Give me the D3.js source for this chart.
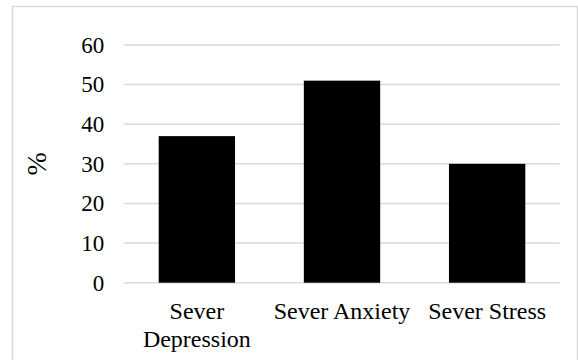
<!DOCTYPE html>
<html>
<head>
<meta charset="utf-8">
<script src="https://cdn.jsdelivr.net/npm/d3@7"></script>
<style>
  html, body { margin: 0; padding: 0; background: #fff; }
  svg { display: block; }
  svg text { font-family: "Liberation Serif", "Times New Roman", serif !important; fill: #000; }
</style>
</head>
<body>
<div id="chart"></div>
<script>
// Share of respondents with severe symptoms (%)
const categories = [["Sever", "Depression"], ["Sever Anxiety"], ["Sever Stress"]];
const categoryKeys = ["Sever Depression", "Sever Anxiety", "Sever Stress"];
const values = [37, 51, 30];
const yTicks = [0, 10, 20, 30, 40, 50, 60];
const yLabel = "%";

const width = 578, height = 360;
const margin = { top: 45, right: 18.3, bottom: 77.3, left: 124.3 };
const innerW = width - margin.left - margin.right;
const innerH = height - margin.top - margin.bottom;

const svg = d3.select("#chart").append("svg")
  .attr("width", width).attr("height", height);

// outer chart frame
svg.append("rect")
  .attr("x", 12.5).attr("y", 6.5)
  .attr("width", 565).attr("height", 370)
  .attr("fill", "none").attr("stroke", "#d9d9d9").attr("stroke-width", 1.5);

const g = svg.append("g").attr("transform", `translate(${margin.left},${margin.top})`);

const x = d3.scaleBand().domain(categoryKeys).range([0, innerW])
  .paddingInner(0.474).paddingOuter(0.237);
const y = d3.scaleLinear().domain([0, 60]).range([innerH, 0]);

// horizontal gridlines
g.append("g").selectAll("line").data(yTicks).join("line")
  .attr("x1", 0).attr("x2", innerW)
  .attr("y1", d => y(d)).attr("y2", d => y(d))
  .attr("stroke", "#d9d9d9").attr("stroke-width", 1.5);

// y axis tick labels
const yAxis = d3.axisLeft(y).tickValues(yTicks).tickSize(0).tickPadding(20);
const ya = g.append("g").call(yAxis)
  .attr("font-family", "Liberation Serif, Times New Roman, serif")
  .attr("font-size", 23);
ya.select(".domain").remove();
ya.selectAll("text").attr("fill", "#000");

// bars
g.append("g").selectAll("rect").data(values).join("rect")
  .attr("x", (d, i) => x(categoryKeys[i]))
  .attr("width", x.bandwidth())
  .attr("y", d => y(d))
  .attr("height", d => innerH - y(d))
  .attr("fill", "#000");

// category labels (wrapped)
const cat = g.append("g").selectAll("text").data(categories).join("text")
  .attr("text-anchor", "middle")
  .attr("font-size", 24)
  .attr("transform", (d, i) => `translate(${x(categoryKeys[i]) + x.bandwidth() / 2},${innerH + 36.5})`);
cat.selectAll("tspan").data(d => d).join("tspan")
  .attr("x", 0).attr("dy", (d, i) => i === 0 ? 0 : 27.7)
  .text(d => d);

// y axis title
svg.append("text")
  .attr("transform", `translate(46,${margin.top + innerH / 2}) rotate(-90)`)
  .attr("text-anchor", "middle")
  .attr("font-size", 28)
  .text(yLabel);
</script>
</body>
</html>
